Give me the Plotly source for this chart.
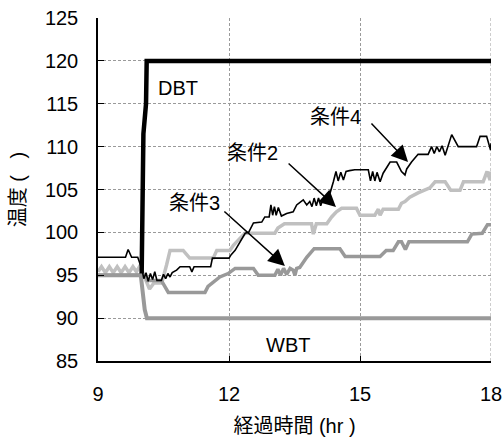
import plotly.graph_objects as go

# Time axis ticks (hours)
x_ticks = [9, 12, 15, 18]
y_ticks = [85, 90, 95, 100, 105, 110, 115, 120, 125]

# Dry-bulb temperature (DBT)
dbt_t = [10.0, 10.04, 10.1, 10.115, 18.0]
dbt_v = [95.2, 111.5, 115.0, 120.0, 120.0]

# Wet-bulb temperature (WBT)
wbt_t = [9.0, 9.98, 10.07, 10.12, 18.0]
wbt_v = [95.0, 95.0, 91.0, 90.0, 90.0]

# 条件2
c2_t = [9.0, 9.08, 9.17, 9.26, 9.35, 9.44, 9.53, 9.62, 9.71, 9.8, 9.88, 9.95, 10.0,
        10.12, 10.18, 10.28, 10.46, 10.57, 10.65, 10.95, 11.1, 11.64, 11.72, 12.02,
        12.1, 12.25, 12.37, 13.05, 13.12, 13.27, 13.89, 13.93, 14.0, 14.24, 14.35,
        14.46, 14.58, 14.92, 15.0, 15.34, 15.42, 15.46, 15.53, 15.88, 15.95, 16.03,
        16.14, 16.33, 16.6, 16.72, 16.95, 17.08, 17.29, 17.37, 17.82, 17.91, 17.98, 18.0]
c2_v = [95.4, 96.0, 95.3, 96.0, 95.3, 96.0, 95.3, 96.0, 95.3, 96.0, 95.4, 96.0, 95.6,
        94.0, 93.4, 94.1, 94.1, 96.2, 97.9, 97.9, 97.0, 97.0, 97.9, 97.9,
        98.5, 99.3, 99.9, 99.9, 100.5, 101.0, 101.0, 99.8, 101.0, 101.0, 101.8,
        102.4, 102.8, 102.8, 102.0, 102.0, 102.7, 102.0, 102.7, 102.7, 103.4, 103.6,
        104.1, 104.6, 105.2, 105.9, 105.9, 104.9, 104.9, 105.9, 105.9, 107.1, 106.1, 107.1]

# 条件3
c3_t = [9.0, 10.08, 10.13, 10.45, 10.61, 11.45, 11.52, 11.68, 11.79, 11.98, 12.14,
        12.56, 12.67, 13.05, 13.12, 13.18, 13.25, 13.32, 13.4, 13.47, 13.51, 13.55,
        13.62, 13.78, 13.95, 14.54, 14.66, 15.46, 15.6, 15.76, 15.88, 15.95, 16.04,
        16.12, 17.46, 17.56, 17.8, 17.92, 18.0]
c3_v = [95.0, 95.0, 94.4, 94.4, 93.0, 93.0, 93.7, 94.3, 94.8, 95.2, 95.8,
        95.8, 95.0, 95.0, 95.7, 95.0, 95.8, 95.1, 95.8, 95.6, 95.0, 95.8,
        95.9, 97.1, 98.1, 98.1, 97.2, 97.2, 97.9, 97.9, 98.9, 98.9, 98.0,
        98.9, 98.9, 99.8, 99.9, 100.9, 100.9]

# 条件4
c4_t = [9.0, 9.63, 9.69, 9.77, 9.91, 10.0, 10.05, 10.1, 10.15, 10.2, 10.25, 10.3,
        10.35, 10.45, 10.5, 10.55, 10.6, 10.65, 10.7, 10.8, 10.88, 11.1, 11.15,
        11.2, 11.58, 11.62, 12.0, 12.05, 12.14, 12.25, 12.37, 12.45, 12.56, 12.75,
        12.82, 12.92, 12.96, 13.0, 13.04, 13.08, 13.13, 13.2, 13.32, 13.47, 13.55,
        13.7, 13.78, 13.85, 13.9, 13.95, 14.0, 14.05, 14.1, 14.15, 14.27, 14.39,
        14.45, 14.5, 14.56, 14.62, 14.68, 14.76, 14.88, 15.19, 15.24, 15.29, 15.34,
        15.39, 15.46, 15.53, 15.69, 15.84, 15.95, 16.03, 16.07, 16.18, 16.33, 16.56,
        16.64, 16.7, 16.76, 16.82, 16.88, 16.95, 17.1, 17.25, 17.67, 17.75, 17.9,
        17.99, 18.0]
c4_v = [97.1, 97.1, 98.0, 97.1, 97.1, 95.8, 94.6, 95.3, 94.3, 95.2, 94.5, 95.4,
        94.4, 94.4, 95.1, 94.6, 95.2, 94.8, 95.3, 95.6, 96.0, 96.0, 95.4,
        96.0, 96.0, 97.0, 97.0, 97.4, 97.9, 98.9, 99.9, 100.0, 101.1, 101.2,
        101.8, 101.8, 103.2, 102.0, 103.0, 102.0, 102.9, 101.9, 102.2, 102.4, 103.2,
        103.8, 103.2, 103.6, 103.0, 104.0, 103.1, 104.0, 103.1, 103.9, 103.8, 105.9,
        107.1, 106.0, 107.0, 106.1, 107.1, 107.2, 107.3, 107.3, 106.0, 107.1, 106.0,
        107.0, 105.9, 106.9, 108.2, 108.2, 107.1, 106.7, 107.4, 108.2, 109.1, 109.1,
        110.0, 109.2, 110.0, 109.4, 110.1, 109.0, 111.4, 110.0, 110.0, 111.2, 111.2,
        109.6, 110.4]

FONT = "Liberation Sans, Arial, Noto Sans CJK JP, sans-serif"
FS = 20
GRID = "#9a9a9a"

fig = go.Figure()
fig.add_trace(go.Scatter(x=c2_t, y=c2_v, mode="lines", name="条件2",
                         line=dict(color="#c0c0c0", width=3.5)))
fig.add_trace(go.Scatter(x=c3_t, y=c3_v, mode="lines", name="条件3",
                         line=dict(color="#999999", width=3.5)))
fig.add_trace(go.Scatter(x=wbt_t, y=wbt_v, mode="lines", name="WBT",
                         line=dict(color="#999999", width=4)))
fig.add_trace(go.Scatter(x=c4_t, y=c4_v, mode="lines", name="条件4",
                         line=dict(color="#000000", width=1.6)))
fig.add_trace(go.Scatter(x=dbt_t, y=dbt_v, mode="lines", name="DBT",
                         line=dict(color="#000000", width=4.5)))

# Text labels on the plot
labels = [
    ("DBT", 10.83, 116.8),
    ("WBT", 13.35, 86.9),
    ("条件2", 12.53, 109.3),
    ("条件3", 11.22, 103.4),
    ("条件4", 14.43, 113.4),
]
for txt, lx, ly in labels:
    fig.add_annotation(x=lx, y=ly, text=txt, showarrow=False,
                       font=dict(family=FONT, size=FS, color="#000000"))

# Arrows: (tail x, tail y, head x, head y)
arrows = [
    (13.33, 108.2, 14.45, 102.96),
    (11.86, 102.6, 13.28, 96.08),
    (15.23, 112.87, 16.10, 108.2),
]
for tx, ty, hx, hy in arrows:
    fig.add_annotation(x=hx, y=hy, ax=tx, ay=ty, xref="x", yref="y",
                       axref="x", ayref="y", text="", showarrow=True,
                       arrowhead=2, arrowsize=2.2, arrowwidth=1.5,
                       arrowcolor="#000000")

# Dashed frame line along the right edge of the plot area
fig.add_shape(type="line", xref="x", yref="paper", x0=x_ticks[-1], x1=x_ticks[-1],
              y0=0, y1=1, line=dict(color=GRID, width=1, dash="3px,2px"),
              layer="below")

fig.update_layout(
    width=502, height=437,
    margin=dict(l=98, r=11, t=18, b=76),
    paper_bgcolor="#ffffff", plot_bgcolor="#ffffff",
    showlegend=False,
    font=dict(family=FONT, size=FS, color="#000000"),
)
fig.update_xaxes(
    range=[9, 18], tickvals=x_ticks, ticks="inside", ticklen=5,
    tickcolor="#000000", showline=True, linecolor="#000000", linewidth=1.5,
    showgrid=True, gridcolor=GRID, griddash="3px,2px", gridwidth=1,
    zeroline=False, ticklabelstandoff=14, automargin=False,
    ticklabeloverflow="allow",
    title=dict(text="経過時間 (hr )", standoff=18,
               font=dict(family=FONT, size=FS)),
)
fig.update_yaxes(
    range=[85, 125], tickvals=y_ticks, ticks="inside", ticklen=6,
    tickcolor="#000000", showline=True, linecolor="#000000", linewidth=1.5,
    showgrid=True, gridcolor=GRID, griddash="3px,2px", gridwidth=1,
    zeroline=False, ticklabelstandoff=14, automargin=False,
    title=dict(text="温度 (   )", standoff=14,
               font=dict(family=FONT, size=FS)),
)

fig.write_html("out.html")
